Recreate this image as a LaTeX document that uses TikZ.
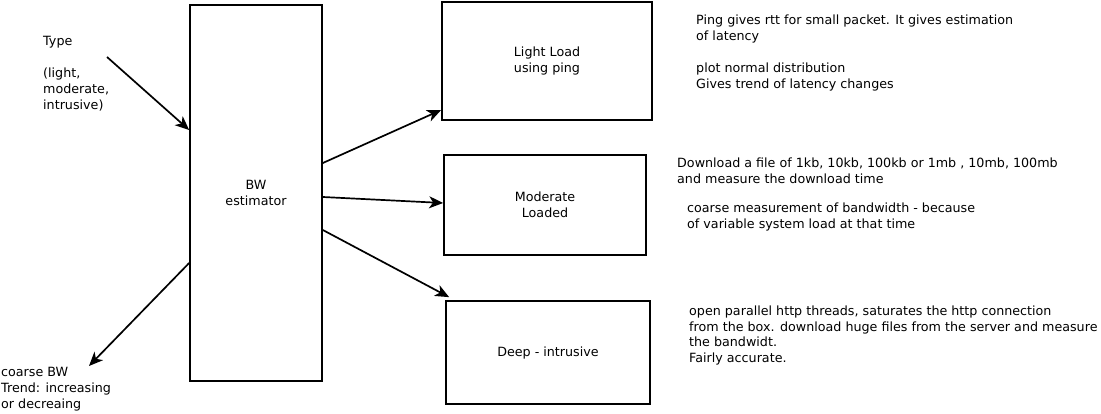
\documentclass[tikz,border=0pt]{standalone}
\usepackage{fontspec}
\setmainfont{DejaVu Sans}
\usetikzlibrary{arrows.meta}
\begin{document}
\begin{tikzpicture}[x=1pt,y=-1pt,
  every node/.style={font=\fontsize{12.7}{16}\selectfont},
  box/.style={draw, line width=1.7pt, align=center, inner sep=0pt},
  note/.style={align=left, inner sep=0pt, anchor=base west},
  arr/.style={line width=1.7pt, -{Stealth[length=14pt,width=12pt,inset=4pt]}}]
\useasboundingbox (0,0) rectangle (1101,414);
% boxes
\node[box, minimum width=132pt, minimum height=376pt] (bw) at (256,193) {BW\\estimator};
\node[box, minimum width=210pt, minimum height=118pt] (light) at (547,61) {Light Load\\using ping};
\node[box, minimum width=202pt, minimum height=100pt] (mod) at (545,205) {Moderate\\Loaded};
\node[box, minimum width=204pt, minimum height=103pt] (deep) at (548,352.5) {Deep - intrusive};
% side texts (anchored at the baseline of their last line)
\node[note] (type) at (43,110) {Type\\[16pt](light,\\moderate,\\intrusive)};
\node[note] (coarse) at (1,408) {coarse BW\\Trend: increasing\\or decreaing};
\node[note] (ping) at (696,89) {Ping gives rtt for small packet. It gives estimation\\of latency\\[16pt]plot normal distribution\\Gives trend of latency changes};
\node[note] (dl) at (677,184) {Download a file of 1kb, 10kb, 100kb or 1mb , 10mb, 100mb\\and measure the download time};
\node[note] (cm) at (687,229) {coarse measurement of bandwidth - because\\of variable system load at that time};
\node[note, font=\fontsize{12.7}{15.5}\selectfont] (par) at (689,362) {open parallel http threads, saturates the http connection\\from the box. download huge files from the server and measure\\the bandwidt.\\Fairly accurate.};
% connectors
\coordinate (t0) at (107,57);
\coordinate (c1) at (89,366);
\draw[arr] (t0) -- ([yshift=63pt]bw.west);
\draw[arr] ([yshift=-70pt]bw.west) -- (c1);
\draw[arr] ([yshift=30pt]bw.east) -- ([yshift=-49pt]light.west);
\draw[arr] ([yshift=-4pt]bw.east) -- ([yshift=2pt]mod.west);
\draw[arr] ([yshift=-37pt]bw.east) -- ([xshift=4pt,yshift=3pt]deep.north west);
\end{tikzpicture}
\end{document}
